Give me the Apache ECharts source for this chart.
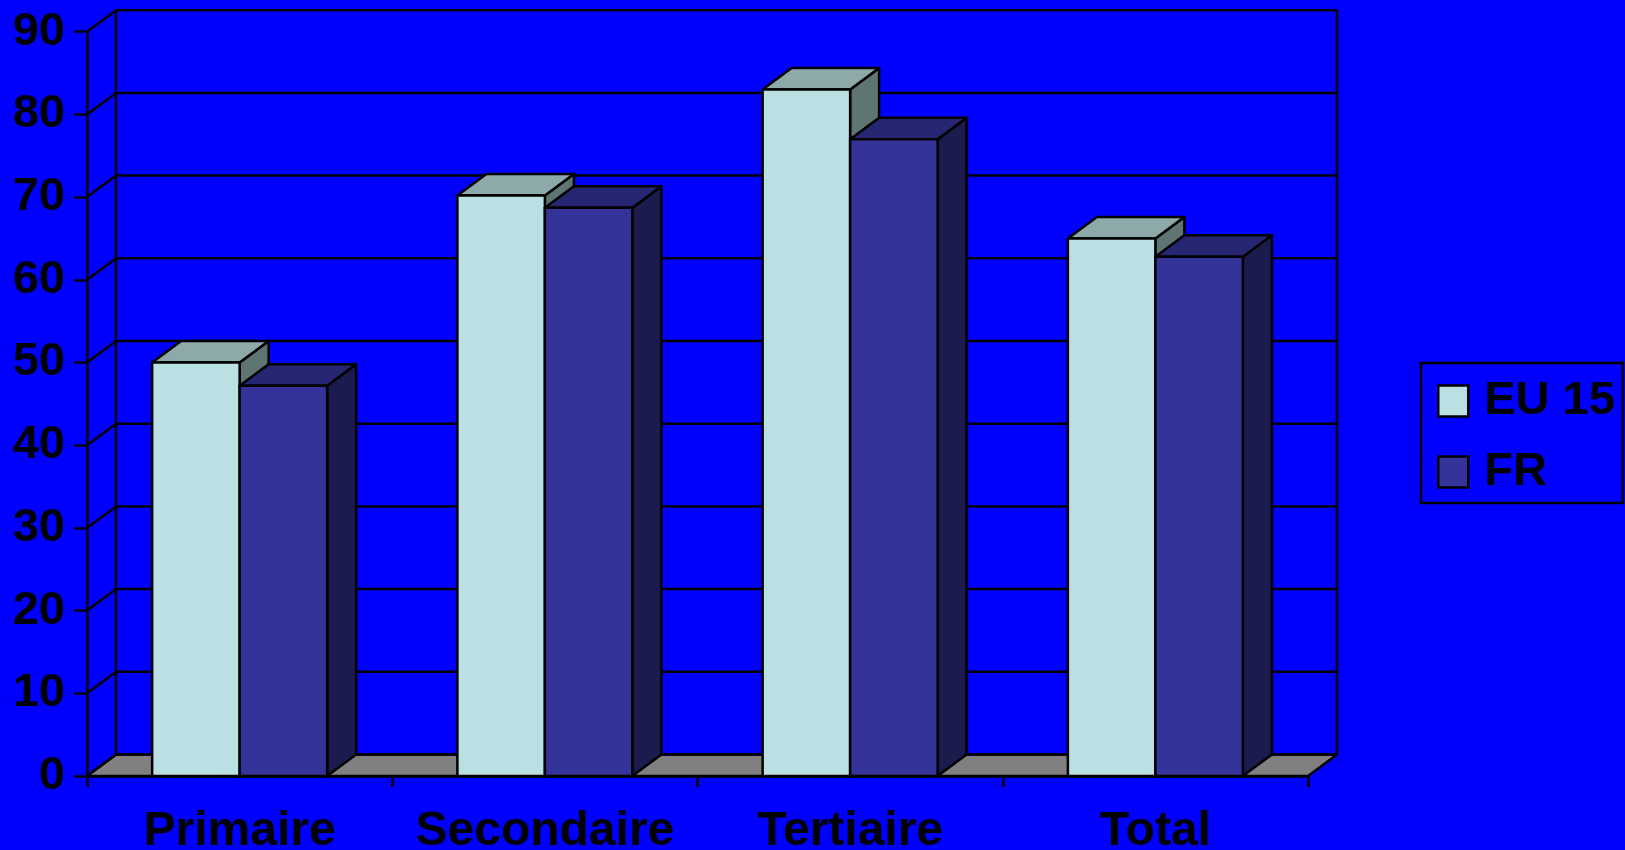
<!DOCTYPE html>
<html><head><meta charset="utf-8">
<script src="https://cdn.jsdelivr.net/npm/echarts@6/dist/echarts.min.js"></script>
<style>html,body{margin:0;padding:0;background:#0000ff;}#c{width:1625px;height:850px;}</style>
</head><body><div id="c"></div>
<script>
const categories = ['Primaire', 'Secondaire', 'Tertiaire', 'Total'];
const eu15 = [50, 70.2, 83, 65];
const fr = [47.2, 68.7, 77, 62.8];
const yTicks = [0, 10, 20, 30, 40, 50, 60, 70, 80, 90];
const seriesNames = ['EU 15', 'FR'];

const DX = 29, DY = -21.5;
const BAR_FRAC = 0.2866;
const FACE = [
  {front: '#BBE0E3', top: '#8EA9A9', side: '#5E7574'},
  {front: '#333399', top: '#262673', side: '#1B1B4D'}
];
const FONT = '"Liberation Sans", Arial, sans-serif';
const STROKE = {stroke: '#000', lineWidth: 2.5, lineJoin: 'round'};

function barRender(si) {
  return function (params, api) {
    const idx = api.value(0), v = api.value(1);
    const base = api.coord([idx, 0]);
    const top = api.coord([idx, v]);
    const band = api.size([1, 0])[0];
    const w = band * BAR_FRAC;
    const l = si === 0 ? base[0] - w : base[0];
    const r = l + w;
    const y0 = base[1], y1 = top[1];
    const c = FACE[si];
    return {type: 'group', children: [
      {type: 'polygon', shape: {points: [[r, y1], [r + DX, y1 + DY], [r + DX, y0 + DY], [r, y0]]}, style: Object.assign({fill: c.side}, STROKE)},
      {type: 'polygon', shape: {points: [[l, y1], [r, y1], [r + DX, y1 + DY], [l + DX, y1 + DY]]}, style: Object.assign({fill: c.top}, STROKE)},
      {type: 'rect', shape: {x: l, y: y1, width: w, height: y0 - y1}, style: Object.assign({fill: c.front}, STROKE)}
    ]};
  };
}

function wallRender(params, api) {
  const cs = params.coordSys;
  const v = api.value(1);
  const y = api.coord([0, v])[1];
  const x0 = cs.x, x1 = cs.x + cs.width;
  const children = [];
  if (params.dataIndex === 0) {
    const yb = api.coord([0, yTicks[0]])[1];
    const yt = api.coord([0, yTicks[yTicks.length - 1]])[1];
    children.push({type: 'polygon', shape: {points: [[x0, yb], [x1, yb], [x1 + DX, yb + DY], [x0 + DX, yb + DY]]}, style: Object.assign({fill: '#808080'}, STROKE)});
    children.push({type: 'line', shape: {x1: x0 + DX, y1: yb + DY, x2: x0 + DX, y2: yt + DY}, style: STROKE});
    children.push({type: 'line', shape: {x1: x1 + DX, y1: yb + DY, x2: x1 + DX, y2: yt + DY}, style: STROKE});
  }
  children.push({type: 'line', shape: {x1: x0, y1: y, x2: x0 + DX, y2: y + DY}, style: STROKE});
  children.push({type: 'line', shape: {x1: x0 + DX, y1: y + DY, x2: x1 + DX, y2: y + DY}, style: STROKE});
  return {type: 'group', children: children};
}

const chart = echarts.init(document.getElementById('c'), null, {renderer: 'canvas'});
chart.setOption({
  backgroundColor: '#0000ff',
  animation: false,
  grid: {left: 87, right: 317, top: 31.7, bottom: 74, containLabel: false, outerBoundsMode: 'none'},
  legend: {
    orient: 'vertical', left: 1421, top: 363,
    padding: [13, 8, 6, 16], itemGap: 21,
    itemWidth: 30, itemHeight: 31,
    borderColor: '#000', borderWidth: 2.5,
    icon: 'rect',
    textStyle: {fontFamily: FONT, fontWeight: 'bold', fontSize: 47, lineHeight: 45, color: '#000', padding: [5, 0, 0, 11]},
    data: seriesNames.map((n, i) => ({name: n, itemStyle: {color: FACE[i].front, borderColor: '#000', borderWidth: 2.5}}))
  },
  xAxis: {
    type: 'category', data: categories,
    axisLine: {show: true, lineStyle: {color: '#000', width: 2.5}},
    axisTick: {show: true, interval: 0, length: 11, lineStyle: {color: '#000', width: 2.5}},
    axisLabel: {interval: 0, fontFamily: FONT, fontWeight: 'bold', fontSize: 48, color: '#000', margin: 32},
    splitLine: {show: false}
  },
  yAxis: {
    type: 'value', min: 0, max: 90, interval: 10,
    axisLine: {show: true, lineStyle: {color: '#000', width: 2.5}},
    axisTick: {show: true, length: 13, lineStyle: {color: '#000', width: 2.5}},
    axisLabel: {fontFamily: FONT, fontWeight: 'bold', fontSize: 47, color: '#000', margin: 22},
    splitLine: {show: false}
  },
  series: [
    {type: 'custom', name: 'walls', renderItem: wallRender, data: yTicks.map(v => [0, v]), encode: {x: 0, y: 1}, silent: true, z: 1},
    {type: 'custom', name: seriesNames[0], renderItem: barRender(0), data: eu15.map((v, i) => [i, v]), encode: {x: 0, y: 1}, itemStyle: {color: FACE[0].front}, z: 2},
    {type: 'custom', name: seriesNames[1], renderItem: barRender(1), data: fr.map((v, i) => [i, v]), encode: {x: 0, y: 1}, itemStyle: {color: FACE[1].front}, z: 3}
  ]
});
</script>
</body></html>
